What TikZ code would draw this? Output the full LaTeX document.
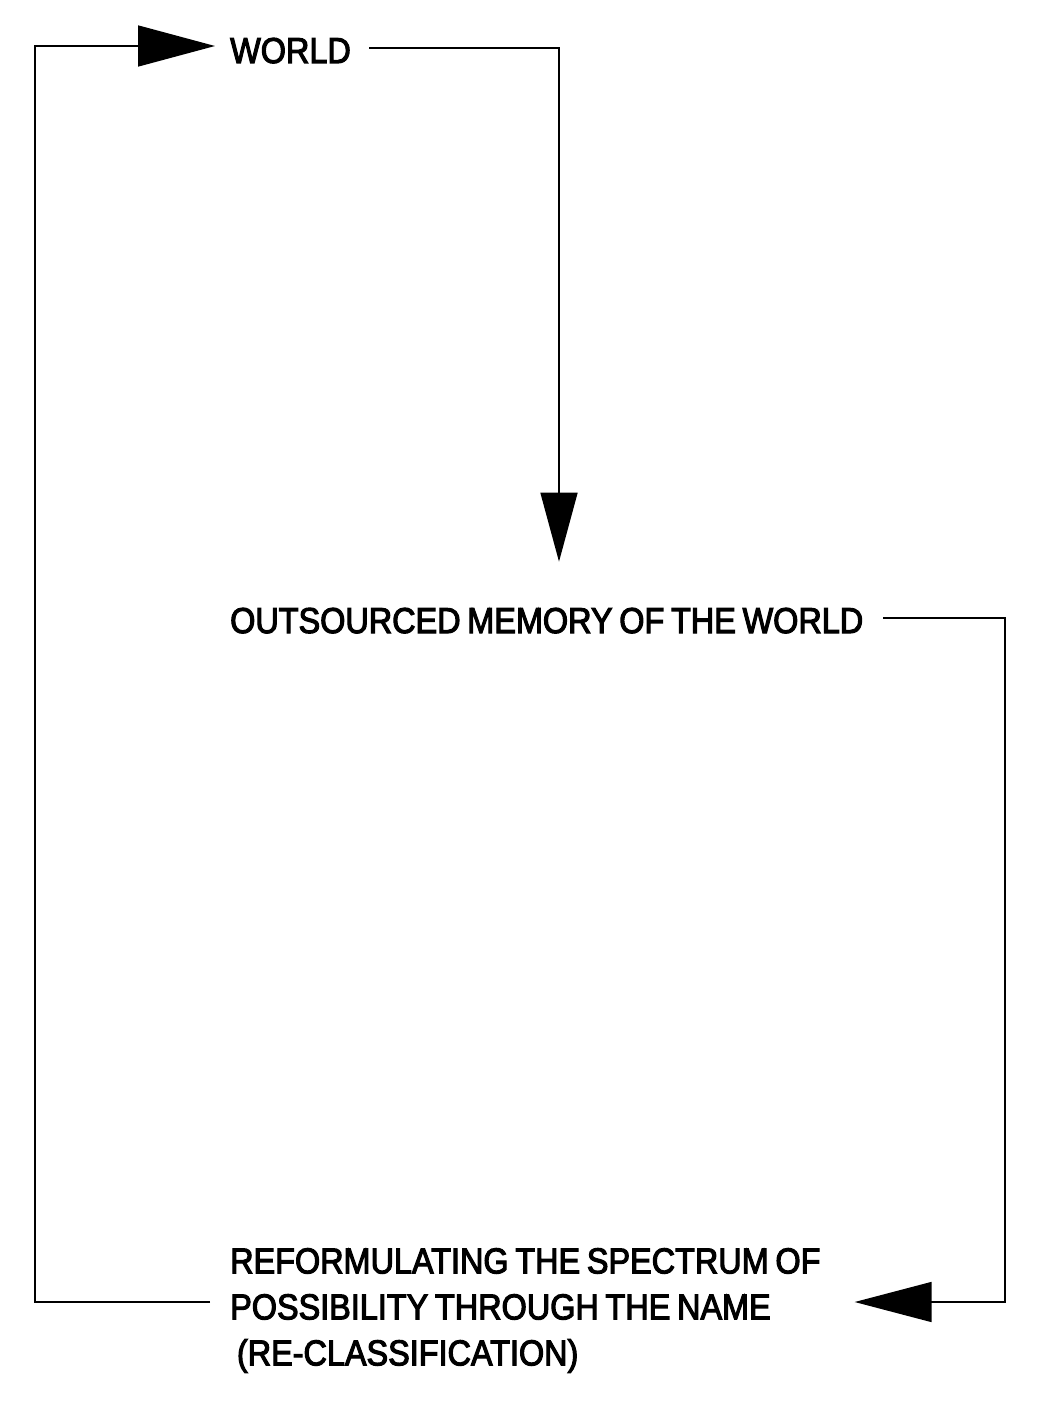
\documentclass[tikz,border=0pt]{standalone}
\usepackage{fontspec}
\setmainfont{Liberation Sans}[FakeStretch=0.9,WordSpace=0.75,FakeBold=3]
\usetikzlibrary{arrows.meta,calc}
\begin{document}
\begin{tikzpicture}[x=1pt,y=-1pt,
  lbl/.style={inner sep=0pt,font=\fontsize{36}{46}\selectfont},
  conn/.style={line width=1.6pt,line join=miter}]
\useasboundingbox (0,0) rectangle (1038,1418);
\node[lbl,anchor=base west] (world) at (230,63) {WORLD};
\node[lbl,anchor=base west] (memory) at (230,633) {OUTSOURCED MEMORY OF THE WORLD};
\node[lbl,anchor=north west,align=left] (reform) at (230,1248)
  {REFORMULATING THE SPECTRUM OF\\POSSIBILITY THROUGH THE NAME\\\ (RE-CLASSIFICATION)};
% helper coordinates
\coordinate (w1) at ([xshift=18pt]world.east);
\coordinate (c1) at (559,48);
\coordinate (m1) at ([yshift=46pt]memory.north);
\coordinate (m2) at ([xshift=20pt]memory.east);
\coordinate (c2) at (1005,618);
\coordinate (rline) at ($(reform.north west)+(0,54)$);
\coordinate (r2) at ([xshift=34pt]reform.north east);
\coordinate (r1) at ($(rline)+(-20,0)$);
\coordinate (c3) at (35,46);
\coordinate (w0) at ([xshift=-15pt]world.west);
% connectors
\draw[conn,-{Triangle[length=69pt,width=37pt]}] (w1 |- c1) -- (c1) -- (c1 |- m1);
\draw[conn,-{Triangle[length=77pt,width=40pt]}] (m2 |- c2) -- (c2) -- (c2 |- rline) -- (r2 |- rline);
\draw[conn,-{Triangle[length=77pt,width=41pt]}] (r1) -- (c3 |- r1) -- (c3) -- (w0 |- c3);
\end{tikzpicture}
\end{document}
